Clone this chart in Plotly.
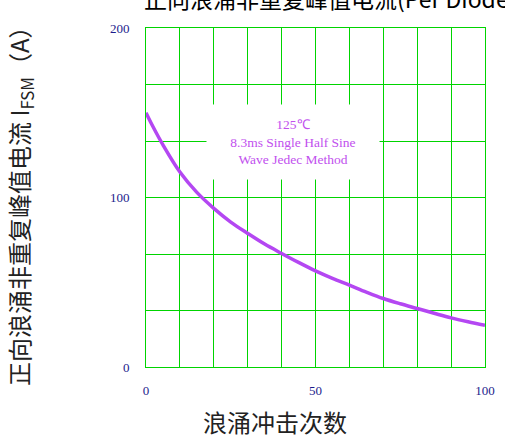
import plotly.graph_objects as go

# Data
surge_cycles = [0, 2, 5, 10, 15, 20, 25, 30, 35, 40, 45, 50, 55, 60, 65, 70, 75, 80, 85, 90, 95, 100]
ifsm_amps = [150, 142, 131, 115, 103, 93.6, 85.5, 78.8, 72.5, 67, 61.7, 56.7, 52.3, 48.3, 44.2, 40.4, 37.3, 34.5, 31.7, 29, 26.7, 24.6]

x_tickvals = [0, 10, 20, 30, 40, 50, 60, 70, 80, 90, 100]
x_ticktext = ["0", "", "", "", "", "50", "", "", "", "", "100"]
y_tickvals = [0, 200/6, 400/6, 100, 800/6, 1000/6, 200]
y_ticktext = ["0", "", "", "100", "", "", "200"]

title_text = "正向浪涌非重复峰值电流(Per Diode)"
y_title = "正向浪涌非重复峰值电流 I<sub>FSM</sub>（A）"
x_title = "浪涌冲击次数"
note_text = "125℃<br>8.3ms Single Half Sine<br>Wave Jedec Method"

grid_color = "#00D400"
tick_font = dict(family="Liberation Serif, serif", size=13, color="#1C1C8C")
cjk_font = "Noto Sans CJK SC, sans-serif"

fig = go.Figure()
fig.add_trace(go.Scatter(
    x=surge_cycles, y=ifsm_amps, mode="lines",
    line=dict(color="#B447F2", width=3.5, shape="spline"),
    showlegend=False, hoverinfo="skip",
))

fig.update_layout(
    width=505, height=440, autosize=False,
    margin=dict(l=146, r=20, t=28, b=73, autoexpand=False),
    paper_bgcolor="white", plot_bgcolor="white",
    xaxis=dict(
        range=[0, 100], tickvals=x_tickvals, ticktext=x_ticktext,
        showgrid=True, gridcolor=grid_color, gridwidth=1,
        zeroline=False, showline=True, linecolor=grid_color, linewidth=1, mirror=True,
        ticks="", tickfont=tick_font, ticklabelstandoff=11, automargin=False,
        fixedrange=True,
    ),
    yaxis=dict(
        range=[0, 200], tickvals=y_tickvals, ticktext=y_ticktext,
        showgrid=True, gridcolor=grid_color, gridwidth=1,
        zeroline=False, showline=True, linecolor=grid_color, linewidth=1, mirror=True,
        ticks="", tickfont=tick_font, ticklabelstandoff=13, automargin=False,
        fixedrange=True,
    ),
)

fig.add_annotation(
    x=43.3, y=133, xref="x", yref="y", text=note_text, showarrow=False,
    font=dict(family="Liberation Serif, serif", size=13.5, color="#C150EE"),
    bgcolor="white", width=170, height=72, align="center",
)

# chart title (partly cut off at the top edge, as in the reference)
fig.add_annotation(
    x=0, y=1, xref="paper", yref="paper", xanchor="left", yanchor="bottom",
    xshift=-4, yshift=11, text=title_text, showarrow=False,
    font=dict(family=cjk_font, size=23, color="black"),
)

# x axis title
fig.add_annotation(
    x=(275 - 146) / 339, y=(367 - 421) / 339, xref="paper", yref="paper",
    xanchor="center", yanchor="middle", text=x_title, showarrow=False,
    font=dict(family=cjk_font, size=24, color="#222"),
)

# y axis title
fig.add_annotation(
    x=(20 - 146) / 339, y=(367 - 200) / 339, xref="paper", yref="paper",
    xanchor="center", yanchor="middle", text=y_title, showarrow=False, textangle=-90,
    font=dict(family=cjk_font, size=24, color="#222"),
)

fig.write_html(
    "out.html",
    config={"displayModeBar": False, "staticPlot": True},
    post_script="document.body.style.margin='0';",
)
